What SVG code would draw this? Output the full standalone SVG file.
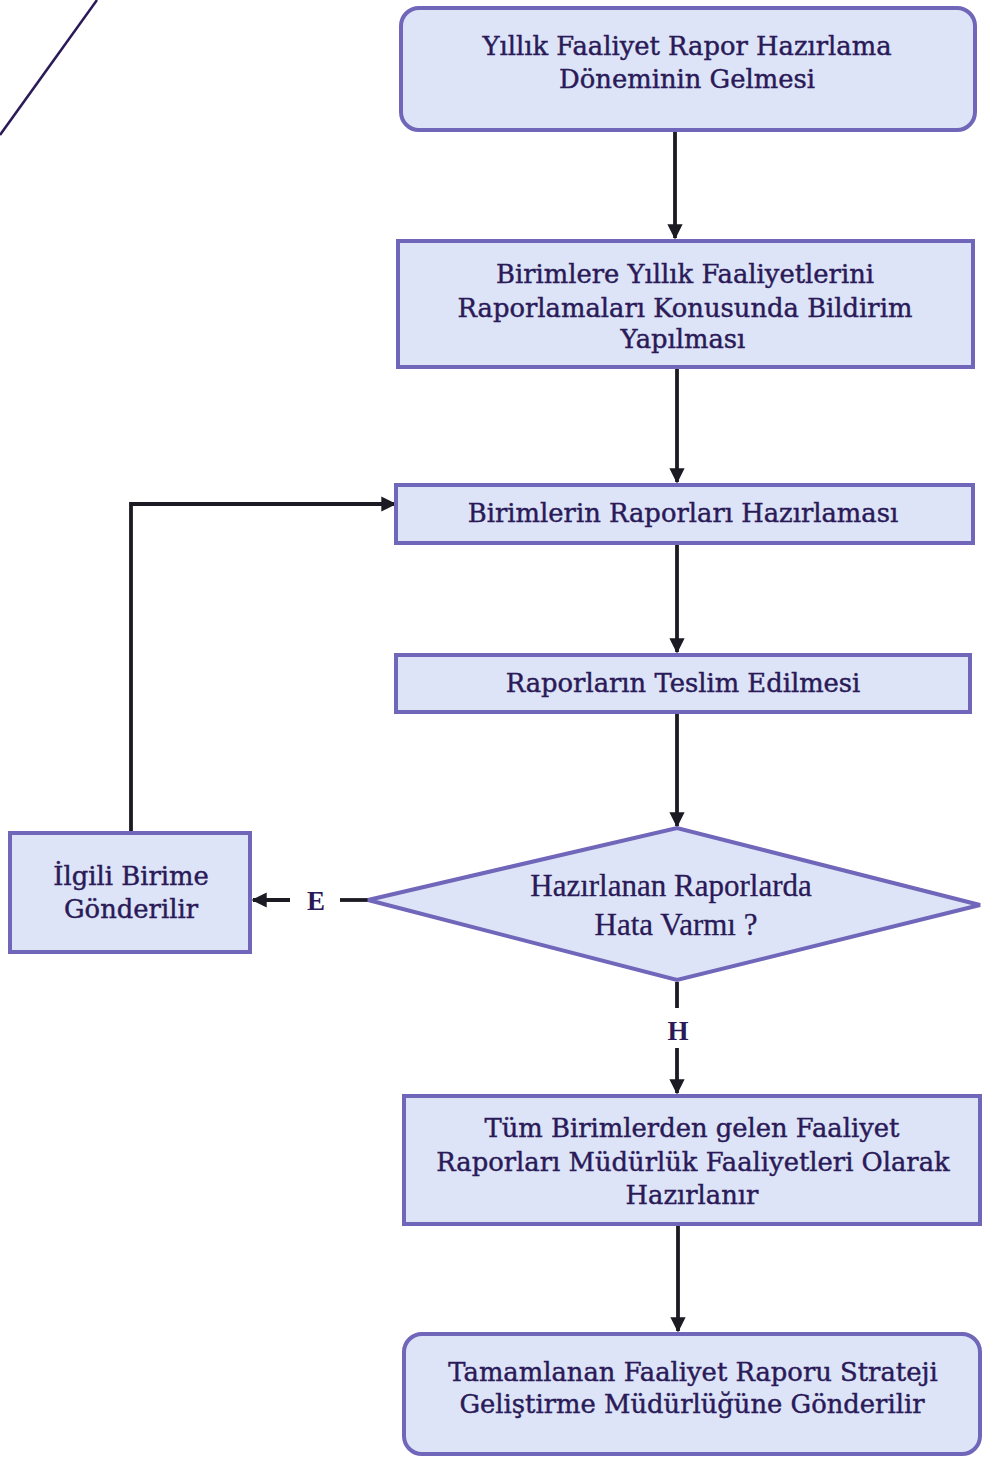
<svg xmlns="http://www.w3.org/2000/svg" width="983" height="1458" viewBox="0 0 983 1458">
  <defs>
    <marker id="arrow" viewBox="0 0 10 10" refX="9" refY="5" markerWidth="4" markerHeight="4" orient="auto" markerUnits="strokeWidth">
      <path d="M0,0 L10,5 L0,10 Z" fill="#1c1a22"/>
    </marker>
    <style>
      .box { fill: #dde4f7; stroke: #7066ba; stroke-width: 4; }
      .txt { font-family: "DejaVu Serif", "Liberation Serif", serif; font-size: 25.8px; fill: #2a1a58; stroke: #2a1a58; stroke-width: 0.45; text-anchor: middle; }
      .dtxt { font-family: "Liberation Serif", "Times New Roman", serif; font-size: 31px; fill: #2a1a58; stroke: #2a1a58; stroke-width: 0.3; text-anchor: middle; }
      .lbl { font-family: "Liberation Serif", serif; font-weight: bold; font-size: 27px; fill: #2a1a58; text-anchor: middle; }
      .edge { fill: none; stroke: #1c1a22; stroke-width: 3.8; }
    </style>
  </defs>

  <rect width="983" height="1458" fill="#ffffff"/>

  <!-- corner stroke -->
  <line x1="0" y1="135" x2="97" y2="0" stroke="#2a1a58" stroke-width="2.5"/>

  <g id="connectors">
    <line class="edge" x1="675" y1="130" x2="675" y2="238" marker-end="url(#arrow)"/>
    <line class="edge" x1="677" y1="368" x2="677" y2="482" marker-end="url(#arrow)"/>
    <line class="edge" x1="677" y1="543" x2="677" y2="652" marker-end="url(#arrow)"/>
    <line class="edge" x1="677" y1="712" x2="677" y2="826" marker-end="url(#arrow)"/>
    <polyline class="edge" points="131,832 131,504 395,504" marker-end="url(#arrow)"/>
    <line class="edge" x1="368" y1="900" x2="340" y2="900"/>
    <line class="edge" x1="290" y1="900" x2="253" y2="900" marker-end="url(#arrow)"/>
    <line class="edge" x1="677" y1="982" x2="677" y2="1008"/>
    <line class="edge" x1="677" y1="1048" x2="677" y2="1093" marker-end="url(#arrow)"/>
    <line class="edge" x1="678" y1="1225" x2="678" y2="1331" marker-end="url(#arrow)"/>
    <text class="lbl" x="316" y="910">E</text>
    <text class="lbl" x="678" y="1040">H</text>
  </g>

  <g id="n1">
    <rect class="box" x="401" y="8" width="574" height="122" rx="18"/>
    <text class="txt" x="687" y="55">Yıllık Faaliyet Rapor Hazırlama</text>
    <text class="txt" x="687" y="88">Döneminin Gelmesi</text>
  </g>

  <g id="n2">
    <rect class="box" x="398" y="241" width="575" height="126"/>
    <text class="txt" x="685" y="283">Birimlere Yıllık Faaliyetlerini</text>
    <text class="txt" x="685" y="317">Raporlamaları Konusunda Bildirim</text>
    <text class="txt" x="683" y="348">Yapılması</text>
  </g>

  <g id="n3">
    <rect class="box" x="396" y="485" width="577" height="58"/>
    <text class="txt" x="683" y="522">Birimlerin Raporları Hazırlaması</text>
  </g>

  <g id="n4">
    <rect class="box" x="396" y="655" width="574" height="57"/>
    <text class="txt" x="683" y="692">Raporların Teslim Edilmesi</text>
  </g>

  <g id="n5">
    <polygon class="box" points="368,900 677,828 980,905 677,980"/>
    <text class="dtxt" x="671" y="896">Hazırlanan Raporlarda</text>
    <text class="dtxt" x="676" y="935">Hata Varmı ?</text>
  </g>

  <g id="n6">
    <rect class="box" x="10" y="833" width="240" height="119"/>
    <text class="txt" x="131" y="885">İlgili Birime</text>
    <text class="txt" x="131" y="918">Gönderilir</text>
  </g>

  <g id="n7">
    <rect class="box" x="404" y="1096" width="576" height="128"/>
    <text class="txt" x="692" y="1137">Tüm Birimlerden gelen Faaliyet</text>
    <text class="txt" x="693" y="1171">Raporları Müdürlük Faaliyetleri Olarak</text>
    <text class="txt" x="692" y="1204">Hazırlanır</text>
  </g>

  <g id="n8">
    <rect class="box" x="404" y="1334" width="576" height="120" rx="18"/>
    <text class="txt" x="693" y="1381">Tamamlanan Faaliyet Raporu Strateji</text>
    <text class="txt" x="692" y="1413">Geliştirme Müdürlüğüne Gönderilir</text>
  </g>
</svg>
